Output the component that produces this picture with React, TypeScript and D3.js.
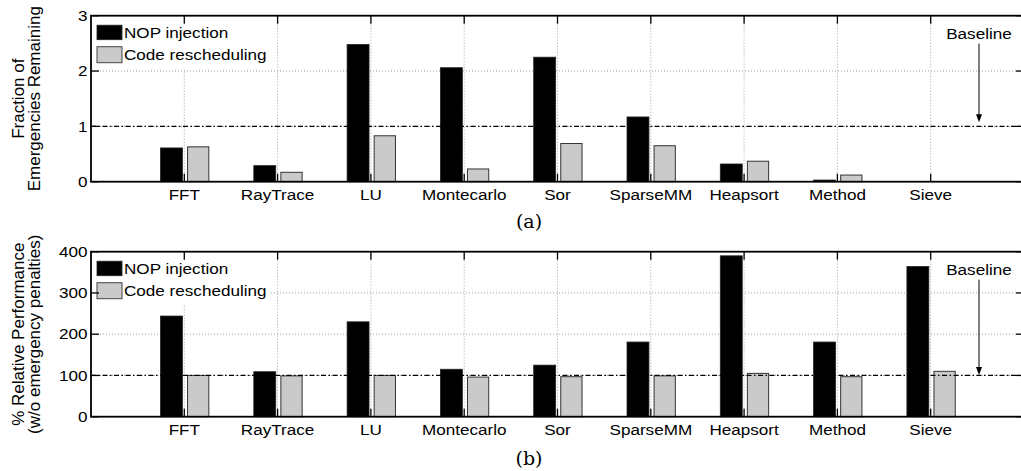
import React from "react";
import * as d3 from "d3";

const categories = ["FFT", "RayTrace", "LU", "Montecarlo", "Sor", "SparseMM", "Heapsort", "Method", "Sieve"];
const nopEmergencies = [0.61, 0.29, 2.48, 2.06, 2.25, 1.17, 0.32, 0.03, 0];
const reschedEmergencies = [0.63, 0.17, 0.83, 0.23, 0.69, 0.65, 0.37, 0.12, 0];
const nopPerformance = [244, 109, 230, 115, 125, 181, 390, 181, 364];
const reschedPerformance = [100, 99, 100, 96, 97, 99, 105, 97, 110];
const emergencyTicks = [0, 1, 2, 3];
const performanceTicks = [0, 100, 200, 300, 400];
const seriesNames = ["NOP injection", "Code rescheduling"];

const W = 1021;
const H = 471;
const FONT = "'Liberation Sans', Arial, Helvetica, sans-serif";
const SX = 1.14;

const xScale = d3.scaleLinear().domain([0, categories.length + 1]).range([91, 1024]);

function SText(props: { x: number; y: number; anchor?: string; size?: number; children: any; baseline?: string }) {
  const { x, y, anchor = "start", size = 15, children, baseline = "alphabetic" } = props;
  return (
    <text
      transform={`translate(${x},${y}) scale(${SX},1)`}
      textAnchor={anchor}
      dominantBaseline={baseline}
      fontFamily={FONT}
      fontSize={size}
      fill="#000"
    >
      {children}
    </text>
  );
}

type PanelProps = {
  top: number;
  bottom: number;
  domain: [number, number];
  ticks: number[];
  nop: number[];
  resched: number[];
  baseline: number;
  labelLines: string[];
  caption: string;
  captionY: number;
  arrowTipOffset: number;
};

function Panel(p: PanelProps) {
  const y = d3.scaleLinear().domain(p.domain).range([p.bottom, p.top]);
  const [x0, x1] = xScale.range();
  const unit = xScale(1) - xScale(0);
  const tickLen = 8;
  const midY = (p.top + p.bottom) / 2;
  const by = y(p.baseline);
  const arrowX = 979;
  const arrowTip = by - p.arrowTipOffset;
  return (
    <g>
      {/* grid */}
      {p.ticks.slice(1, -1).map((t) => (
        <line key={"gy" + t} x1={x0} x2={x1} y1={y(t)} y2={y(t)} stroke="#9a9a9a" strokeWidth={0.9} strokeDasharray="1,2" />
      ))}
      {categories.map((c, i) => (
        <line key={"gx" + c} x1={xScale(i + 1)} x2={xScale(i + 1)} y1={p.top} y2={p.bottom} stroke="#9a9a9a" strokeWidth={0.9} strokeDasharray="1,2" />
      ))}
      {/* bars */}
      {categories.map((c, i) => {
        const cx = xScale(i + 1);
        const v1 = p.nop[i];
        const v2 = p.resched[i];
        return (
          <g key={"b" + c}>
            <rect x={cx - 0.255 * unit} width={0.235 * unit} y={y(v1)} height={Math.max(0, y(0) - y(v1))} fill="#000" stroke="#222" strokeWidth={0.8} />
            <rect x={cx + 0.035 * unit} width={0.228 * unit} y={y(v2)} height={Math.max(0, y(0) - y(v2))} fill="#cacaca" stroke="#333" strokeWidth={1} />
          </g>
        );
      })}
      {/* baseline */}
      <line x1={x0} x2={x1} y1={by} y2={by} stroke="#000" strokeWidth={1.2} strokeDasharray="5,2.5,1.5,2.5" />
      {/* legend */}
      <rect x={x0 + 1} y={p.top + 1} width={178} height={52} fill="#fff" />
      <rect x={97} y={p.top + 9.5} width={25} height={14.5} fill="#000" stroke="#222" strokeWidth={0.8} />
      <rect x={97} y={p.top + 31} width={25} height={16} fill="#cacaca" stroke="#444" strokeWidth={1} />
      <SText x={124} y={p.top + 22.5}>{seriesNames[0]}</SText>
      <SText x={124} y={p.top + 44.5}>{seriesNames[1]}</SText>
      {/* baseline annotation */}
      <SText x={arrowX} y={p.top + 23.5} anchor="middle">Baseline</SText>
      <line x1={arrowX} x2={arrowX} y1={p.top + 28} y2={arrowTip - 6} stroke="#000" strokeWidth={1} />
      <path d={`M${arrowX - 3},${arrowTip - 8} L${arrowX + 3},${arrowTip - 8} L${arrowX},${arrowTip} Z`} fill="#000" />
      {/* axes box */}
      <rect x={x0} y={p.top} width={x1 - x0} height={p.bottom - p.top} fill="none" stroke="#000" strokeWidth={1.8} />
      {/* x ticks */}
      {categories.map((c, i) => (
        <g key={"xt" + c}>
          <line x1={xScale(i + 1)} x2={xScale(i + 1)} y1={p.bottom} y2={p.bottom - tickLen} stroke="#000" strokeWidth={1.3} />
          <line x1={xScale(i + 1)} x2={xScale(i + 1)} y1={p.top} y2={p.top + tickLen} stroke="#000" strokeWidth={1.3} />
          <SText x={xScale(i + 1)} y={p.bottom + 18} anchor="middle">{c}</SText>
        </g>
      ))}
      {/* y ticks */}
      {p.ticks.map((t) => (
        <g key={"yt" + t}>
          <line x1={x0} x2={x0 + tickLen} y1={y(t)} y2={y(t)} stroke="#000" strokeWidth={1.3} />
          <line x1={x1} x2={x1 - tickLen} y1={y(t)} y2={y(t)} stroke="#000" strokeWidth={1.3} />
          <SText x={87.5} y={y(t) + 5.2} anchor="end">{String(t)}</SText>
        </g>
      ))}
      {/* y label */}
      {p.labelLines.map((l, k) => (
        <text
          key={"yl" + k}
          transform={`translate(${23.5 + k * 16},${midY}) rotate(-90)`}
          textAnchor="middle"
          fontFamily={FONT}
          fontSize={17}
        >
          {l}
        </text>
      ))}
      {/* caption */}
      <text x={529} y={p.captionY} textAnchor="middle" dominantBaseline="central" fontFamily="'DejaVu Serif', 'Liberation Serif', serif" fontSize={19}>
        {p.caption}
      </text>
    </g>
  );
}

export default function App() {
  return (
    <svg width={W} height={H} style={{ position: "absolute", left: 0, top: 0, background: "#fff" }}>
      <rect x={0} y={0} width={W} height={H} fill="#fff" />
      <Panel
        top={15.7}
        bottom={181.7}
        domain={[0, 3]}
        ticks={emergencyTicks}
        nop={nopEmergencies}
        resched={reschedEmergencies}
        baseline={1}
        labelLines={["Fraction of", "Emergencies Remaining"]}
        caption="(a)"
        captionY={221}
        arrowTipOffset={4}
      />
      <Panel
        top={251.7}
        bottom={416.7}
        domain={[0, 400]}
        ticks={performanceTicks}
        nop={nopPerformance}
        resched={reschedPerformance}
        baseline={100}
        labelLines={["% Relative Performance", "(w/o emergency penalties)"]}
        caption="(b)"
        captionY={458}
        arrowTipOffset={0.5}
      />
    </svg>
  );
}
